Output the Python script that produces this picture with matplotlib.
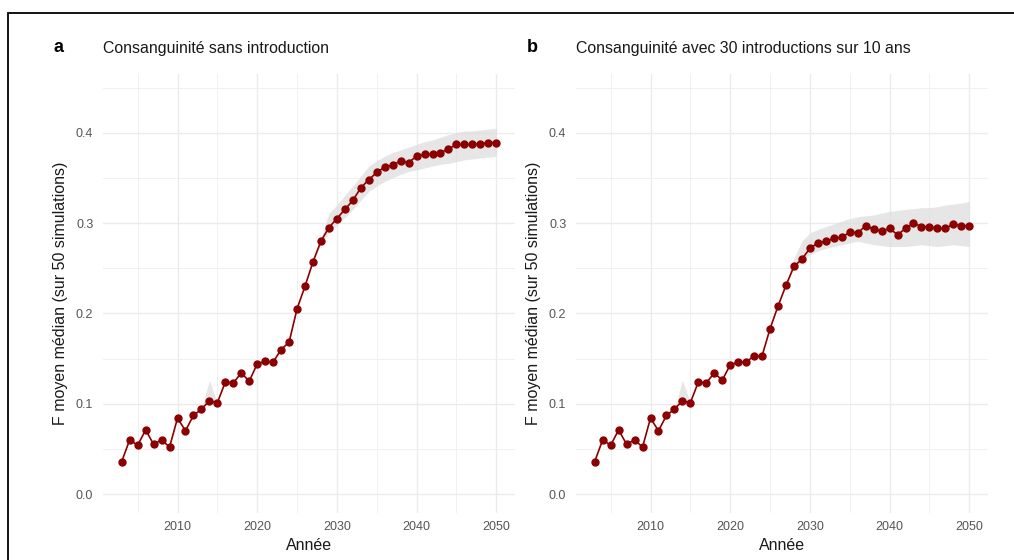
import matplotlib
matplotlib.use("Agg")
import matplotlib.pyplot as plt
from matplotlib.ticker import MultipleLocator, FormatStrFormatter

plt.rcParams['font.family'] = ['Liberation Sans', 'DejaVu Sans']

years = list(range(2003, 2051))

# panel a: no introduction (median F over 50 simulations)
f_sans = [0.036, 0.060, 0.054, 0.071, 0.055, 0.060, 0.052, 0.084, 0.070, 0.087,
          0.094, 0.103, 0.101, 0.124, 0.123, 0.134, 0.125, 0.144, 0.147, 0.146,
          0.160, 0.168, 0.205, 0.230, 0.257, 0.280, 0.295, 0.305, 0.315, 0.325,
          0.339, 0.348, 0.356, 0.362, 0.364, 0.369, 0.367, 0.374, 0.376, 0.376,
          0.378, 0.382, 0.387, 0.387, 0.387, 0.388, 0.389, 0.389]

# panel b: 30 introductions over 10 years
f_intro = [0.036, 0.060, 0.054, 0.071, 0.055, 0.060, 0.052, 0.084, 0.070, 0.087,
           0.094, 0.103, 0.101, 0.124, 0.123, 0.134, 0.126, 0.143, 0.146, 0.146,
           0.153, 0.153, 0.183, 0.208, 0.231, 0.252, 0.260, 0.272, 0.278, 0.280,
           0.283, 0.284, 0.290, 0.289, 0.297, 0.293, 0.291, 0.294, 0.287, 0.294,
           0.300, 0.296, 0.296, 0.294, 0.294, 0.299, 0.297, 0.297]

# small early bump of the envelope (same in both panels)
bump_years = [2013, 2014, 2015]
bump_lo = [0.094, 0.103, 0.101]
bump_hi = [0.094, 0.126, 0.101]

# envelope of the projections, 2027-2050
band_years = list(range(2027, 2051))
sans_lo = [0.257, 0.277, 0.289, 0.298, 0.306, 0.315, 0.325, 0.335, 0.341, 0.346,
           0.350, 0.354, 0.357, 0.359, 0.361, 0.363, 0.365, 0.366, 0.368, 0.370,
           0.371, 0.372, 0.373, 0.374]
sans_hi = [0.257, 0.283, 0.311, 0.320, 0.331, 0.341, 0.352, 0.363, 0.369, 0.374,
           0.378, 0.381, 0.384, 0.387, 0.390, 0.392, 0.395, 0.398, 0.400, 0.402,
           0.402, 0.403, 0.404, 0.405]
intro_lo = [0.231, 0.250, 0.257, 0.265, 0.269, 0.272, 0.274, 0.276, 0.278, 0.280,
            0.278, 0.276, 0.275, 0.274, 0.274, 0.274, 0.275, 0.276, 0.275, 0.274,
            0.275, 0.276, 0.275, 0.274]
intro_hi = [0.231, 0.261, 0.280, 0.289, 0.293, 0.296, 0.299, 0.302, 0.305, 0.307,
            0.308, 0.309, 0.311, 0.313, 0.314, 0.315, 0.316, 0.317, 0.317, 0.318,
            0.320, 0.321, 0.322, 0.324]

panels = [
    ("a", "Consanguinité sans introduction", f_sans, sans_lo, sans_hi),
    ("b", "Consanguinité avec 30 introductions sur 10 ans", f_intro, intro_lo, intro_hi),
]

W, H = 1014, 560
fig = plt.figure(figsize=(W / 100, H / 100), dpi=100)

# black frame: only its top and left edges are inside the picture
fig.add_artist(plt.Rectangle((8 / W, -0.5), 1.5, 1.5 - 13 / H,
                             transform=fig.transFigure, fill=False,
                             edgecolor='black', linewidth=1.3))

axes_px = [103, 576]
for (letter, title, vals, lo, hi), x0 in zip(panels, axes_px):
    ax = fig.add_axes([x0 / W, (H - 513) / H, 412 / W, 439 / H])
    ax.fill_between(bump_years, bump_lo, bump_hi, color='#dcdcdc', alpha=0.7,
                    linewidth=0)
    ax.fill_between(band_years, lo, hi, color='#dcdcdc', alpha=0.7, linewidth=0)
    ax.plot(years, vals, color='#8b0000', linewidth=1.2, marker='o',
            markersize=5.0, zorder=3)

    ax.set_xlim(2000.65, 2052.35)
    ax.set_ylim(-0.021, 0.465)
    ax.xaxis.set_major_locator(MultipleLocator(10))
    ax.xaxis.set_minor_locator(MultipleLocator(5))
    ax.yaxis.set_major_locator(MultipleLocator(0.1))
    ax.yaxis.set_minor_locator(MultipleLocator(0.05))
    ax.yaxis.set_major_formatter(FormatStrFormatter('%.1f'))
    ax.grid(which='major', color='#ebebeb', linewidth=1.0)
    ax.grid(which='minor', color='#f0f0f0', linewidth=0.7)
    ax.set_axisbelow(True)
    for s in ax.spines.values():
        s.set_visible(False)
    ax.tick_params(which='both', length=0, labelsize=9, labelcolor='#555555')
    ax.tick_params(axis='x', pad=6)
    ax.tick_params(axis='y', pad=7)

    ax.set_xlabel("Année", fontsize=11.5, color='#1a1a1a', labelpad=3)
    ax.set_ylabel("F moyen médian (sur 50 simulations)", fontsize=11.5,
                  color='#1a1a1a', labelpad=6)

    fig.text((x0 - 44) / W, 1 - 48 / H, letter, fontsize=13, fontweight='bold',
             ha='center', va='center')
    fig.text(x0 / W, 1 - 48 / H, title, fontsize=11.4, color='#1a1a1a',
             ha='left', va='center')

fig.savefig("out.png", dpi=100)
